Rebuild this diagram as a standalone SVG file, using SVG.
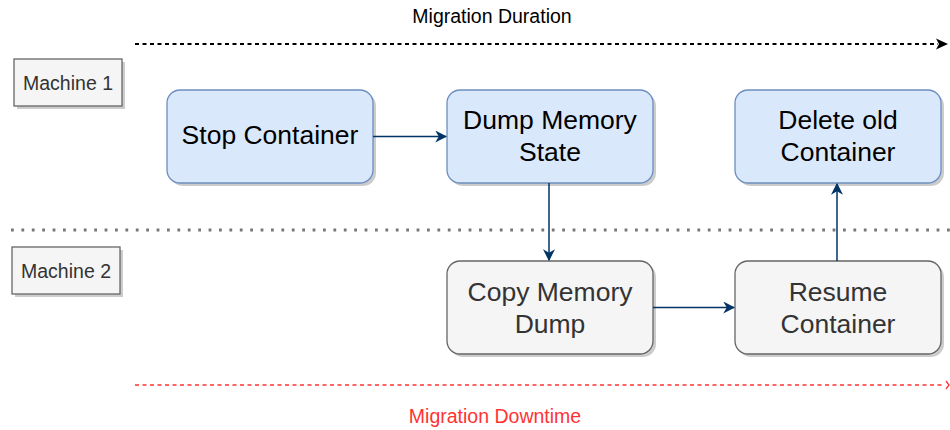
<svg xmlns="http://www.w3.org/2000/svg" width="950" height="430" viewBox="0 0 950 430">
<defs>
<style>
.blue{fill:#dae8fc;stroke:#6c8ebf;stroke-width:1.3}
.gray{fill:#f5f5f5;stroke:#666666;stroke-width:1.3}
.shadow{fill:#000;opacity:0.2}
.t{font-family:"Liberation Sans",Arial,sans-serif;font-size:26.5px;text-anchor:middle}
.tb{fill:#000}
.tg{fill:#333333}
.m{font-family:"Liberation Sans",Arial,sans-serif;font-size:19.5px;text-anchor:middle;fill:#333333}
.edge{stroke:#003366;stroke-width:1.5;fill:none}
</style>
<marker id="arr" viewBox="0 0 10 10" refX="9" refY="5" markerWidth="12" markerHeight="12" markerUnits="userSpaceOnUse" orient="auto">
<path d="M0,0 L10,5 L0,10 L3,5 Z" fill="#003366"/>
</marker>
</defs>
<rect width="950" height="430" fill="#ffffff"/>

<g id="duration">
<line x1="135" y1="44" x2="938" y2="44" stroke="#000" stroke-width="2" stroke-dasharray="4 3.5"/>
<path d="M936,38.5 L948,44 L936,49.5 L939,44 Z" fill="#000"/>
<text x="492" y="23" class="m" style="fill:#000">Migration Duration</text>
</g>

<g id="downtime">
<line x1="135" y1="385" x2="944" y2="385" stroke="#ff3333" stroke-width="1.3" stroke-dasharray="4 3.5"/>
<path d="M946,381 L949,385 L946,389" fill="none" stroke="#ff3333" stroke-width="1.3"/>
<text x="495" y="423" class="m" style="fill:#ff3333">Migration Downtime</text>
</g>

<g id="separator">
<line x1="11" y1="230" x2="950" y2="230" stroke="#777777" stroke-width="2.8" stroke-dasharray="2.8 7.6"/>
</g>

<g id="machine1">
<rect x="17" y="62" width="108" height="47" class="shadow"/>
<rect x="14" y="59" width="108" height="47" class="gray"/>
<text x="68" y="89.5" class="m">Machine 1</text>
</g>

<g id="machine2">
<rect x="15" y="250" width="108" height="47" class="shadow"/>
<rect x="12" y="247" width="108" height="47" class="gray"/>
<text x="66" y="277.5" class="m">Machine 2</text>
</g>

<g id="stop">
<rect x="170" y="93" width="206" height="93" rx="13" class="shadow"/>
<rect x="167" y="90" width="206" height="93" rx="13" class="blue"/>
<text x="270" y="144" class="t tb">Stop Container</text>
</g>

<g id="dump">
<rect x="450" y="93" width="206" height="93" rx="13" class="shadow"/>
<rect x="447" y="90" width="206" height="93" rx="13" class="blue"/>
<text x="550" y="129" class="t tb">Dump Memory</text>
<text x="550" y="161" class="t tb">State</text>
</g>

<g id="delete">
<rect x="738" y="93" width="206" height="93" rx="13" class="shadow"/>
<rect x="735" y="90" width="206" height="93" rx="13" class="blue"/>
<text x="838" y="129" class="t tb">Delete old</text>
<text x="838" y="161" class="t tb">Container</text>
</g>

<g id="copy">
<rect x="450" y="264" width="206" height="93" rx="13" class="shadow"/>
<rect x="447" y="261" width="206" height="93" rx="13" class="gray"/>
<text x="550" y="300.5" class="t tg">Copy Memory</text>
<text x="550" y="332.5" class="t tg">Dump</text>
</g>

<g id="resume">
<rect x="738" y="264" width="206" height="93" rx="13" class="shadow"/>
<rect x="735" y="261" width="206" height="93" rx="13" class="gray"/>
<text x="838" y="300.5" class="t tg">Resume</text>
<text x="838" y="332.5" class="t tg">Container</text>
</g>

<g id="connectors">
<line x1="373" y1="136.5" x2="446" y2="136.5" class="edge" marker-end="url(#arr)"/>
<line x1="549" y1="183" x2="549" y2="260" class="edge" marker-end="url(#arr)"/>
<line x1="653" y1="307.5" x2="734" y2="307.5" class="edge" marker-end="url(#arr)"/>
<line x1="837" y1="261" x2="837" y2="184" class="edge" marker-end="url(#arr)"/>
</g>
</svg>
